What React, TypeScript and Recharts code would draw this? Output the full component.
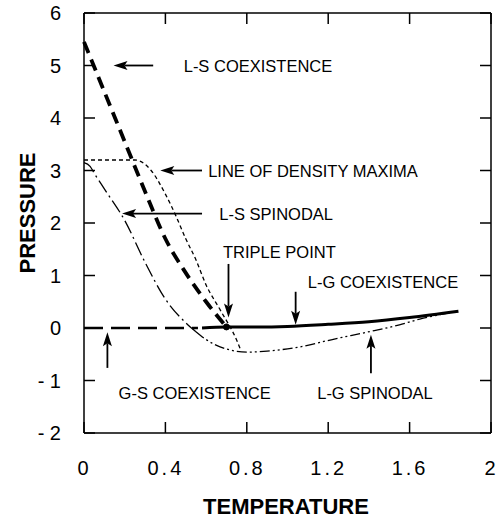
import { LineChart, Line, XAxis, YAxis, ReferenceLine, ReferenceDot } from "recharts";

const xTicks = [0, 0.4, 0.8, 1.2, 1.6, 2];
const yTicks = [-2, -1, 0, 1, 2, 3, 4, 5, 6];

// L-S coexistence (thick dashed)
const lsCoexT = [0, 0.1, 0.2, 0.3, 0.4, 0.5, 0.6, 0.7];
const lsCoexP = [5.45, 4.5, 3.55, 2.6, 1.7, 1.05, 0.5, 0.02];

// line of density maxima (fine dashes)
const densT = [0, 0.1, 0.2, 0.25, 0.3, 0.33, 0.4, 0.45, 0.5, 0.55, 0.6, 0.67, 0.75, 0.77];
const densP = [3.2, 3.2, 3.2, 3.2, 3.12, 3.0, 2.55, 2.15, 1.7, 1.3, 0.82, 0.34, -0.23, -0.42];

// L-S spinodal (long dash - dot)
const lsSpinT = [0, 0.03, 0.05, 0.1, 0.2, 0.3, 0.4, 0.5, 0.55];
const lsSpinP = [3.15, 3.08, 2.95, 2.65, 2.05, 1.25, 0.55, 0.1, -0.07];

// L-G spinodal (dash - dot - dot)
const lgSpinT = [0.55, 0.6, 0.7, 0.8, 0.9, 1.06, 1.23, 1.39, 1.55, 1.65, 1.83];
const lgSpinP = [-0.07, -0.22, -0.4, -0.46, -0.44, -0.36, -0.21, -0.08, 0.06, 0.17, 0.31];

// L-G coexistence (solid)
const lgCoexT = [0.58, 0.7, 0.85, 1.0, 1.2, 1.4, 1.6, 1.84];
const lgCoexP = [0.0, 0.02, 0.02, 0.03, 0.07, 0.12, 0.2, 0.32];

// G-S coexistence (dashed)
const gsCoexT = [0, 0.2, 0.4, 0.56];
const gsCoexP = [0, 0, 0, 0];

const tripleT = [0.7];
const tripleP = [0.02];

// annotation texts
const labelTexts = [
  "L-S COEXISTENCE",
  "LINE OF DENSITY MAXIMA",
  "L-S SPINODAL",
  "TRIPLE POINT",
  "L-G COEXISTENCE",
  "G-S COEXISTENCE",
  "L-G SPINODAL",
];
const labelT = [0.49, 0.61, 0.665, 0.683, 1.1, 0.17, 1.146];
const labelP = [5.0, 3.0, 2.17, 1.44, 0.88, -1.24, -1.24];

// arrows: tail -> head
const arrowTailT = [0.34, 0.58, 0.58, 0.71, 1.04, 0.115, 1.41];
const arrowTailP = [5.0, 3.0, 2.18, 1.22, 0.69, -0.76, -0.86];
const arrowHeadT = [0.145, 0.375, 0.187, 0.71, 1.04, 0.115, 1.41];
const arrowHeadP = [5.0, 3.0, 2.18, 0.2, 0.06, -0.08, -0.13];

const xMin = 0;
const xMax = 2;
const yMin = -2;
const yMax = 6;

// two interior reference points; the frame is drawn through the axis scales they map to
const refA = { x: 0.5, y: 1 };
const refB = { x: 1.5, y: 3 };

const zip = (t: number[], p: number[]) => t.map((v, i) => ({ t: v, p: p[i] }));

const font = "'Liberation Sans', Arial, Helvetica, sans-serif";
const TICK = 11;

const Arrow = (props: any) => {
  const { x1, y1, x2, y2 } = props;
  const dx = x2 - x1;
  const dy = y2 - y1;
  const len = Math.hypot(dx, dy) || 1;
  const ux = dx / len;
  const uy = dy / len;
  const hl = 14;
  const hw = 4.5;
  const bx = x2 - ux * hl;
  const by = y2 - uy * hl;
  const nx = bx + ux * 3;
  const ny = by + uy * 3;
  return (
    <g>
      <line x1={x1} y1={y1} x2={nx} y2={ny} stroke="#000" strokeWidth={1.8} />
      <polygon
        points={`${x2},${y2} ${bx - uy * hw},${by + ux * hw} ${nx},${ny} ${bx + uy * hw},${by - ux * hw}`}
        fill="#000"
      />
    </g>
  );
};

// top/right frame edges and inward ticks on all four sides
const Frame = (props: any) => {
  const { x1, y1, x2, y2 } = props;
  const sx = (t: number) => x1 + ((t - refA.x) * (x2 - x1)) / (refB.x - refA.x);
  const sy = (p: number) => y1 + ((p - refA.y) * (y2 - y1)) / (refB.y - refA.y);
  const L = sx(xMin);
  const R = sx(xMax);
  const T = sy(yMax);
  const B = sy(yMin);
  return (
    <g stroke="#000" strokeWidth={1.5} fill="none">
      <line x1={L} y1={T} x2={R} y2={T} />
      <line x1={R} y1={T} x2={R} y2={B} />
      {xTicks.map((v) => (
        <g key={`x${v}`}>
          <line x1={sx(v)} x2={sx(v)} y1={T} y2={T + TICK} />
          <line x1={sx(v)} x2={sx(v)} y1={B} y2={B - TICK} />
        </g>
      ))}
      {yTicks.map((v) => (
        <g key={`y${v}`}>
          <line y1={sy(v)} y2={sy(v)} x1={L} x2={L + TICK} />
          <line y1={sy(v)} y2={sy(v)} x1={R} x2={R - TICK} />
        </g>
      ))}
    </g>
  );
};

const yFmt = (v: number) => (v < 0 ? `- ${-v}` : `${v}`);

export default function App() {
  return (
    <div style={{ position: "absolute", left: 0, top: 0, width: 498, height: 518, background: "#fff" }}>
      <LineChart width={498} height={518} margin={{ top: 13, right: 7, bottom: 0, left: 0 }}>
        <XAxis
          dataKey="t"
          type="number"
          domain={[xMin, xMax]}
          ticks={xTicks}
          height={85}
          tickLine={false}
          tickMargin={22}
          stroke="#000"
          strokeWidth={1.5}
          tick={{ fill: "#000", fontSize: 20, fontFamily: font, letterSpacing: 3, dx: 0.5 }}
          label={{
            value: "TEMPERATURE",
            position: "insideBottom",
            offset: 4,
            fill: "#000",
            fontSize: 22,
            fontWeight: "bold",
            fontFamily: font,
            dx: -1.5,
          }}
        />
        <YAxis
          dataKey="p"
          type="number"
          domain={[yMin, yMax]}
          ticks={yTicks}
          width={84}
          tickLine={false}
          tickMargin={17}
          tickFormatter={yFmt}
          stroke="#000"
          strokeWidth={1.5}
          tick={{ fill: "#000", fontSize: 20, fontFamily: font }}
          label={{
            value: "PRESSURE",
            position: "center",
            angle: -90,
            dx: -15,
            dy: -10,
            fill: "#000",
            fontSize: 22,
            fontWeight: "bold",
            fontFamily: font,
          }}
        />

        <Line data={zip(gsCoexT, gsCoexP)} dataKey="p" type="linear" stroke="#000" strokeWidth={2.6} strokeDasharray="19 8" dot={false} isAnimationActive={false} />
        <Line data={zip(lgCoexT, lgCoexP)} dataKey="p" type="monotone" stroke="#000" strokeWidth={3} dot={false} isAnimationActive={false} />
        <Line data={zip(lgSpinT, lgSpinP)} dataKey="p" type="monotone" stroke="#000" strokeWidth={1.3} strokeDasharray="10 3 2 3 2 3" dot={false} isAnimationActive={false} />
        <Line data={zip(lsSpinT, lsSpinP)} dataKey="p" type="monotone" stroke="#000" strokeWidth={1.3} strokeDasharray="14 4 2 4" dot={false} isAnimationActive={false} />
        <Line data={zip(densT, densP)} dataKey="p" type="monotone" stroke="#000" strokeWidth={1.3} strokeDasharray="4 3" dot={false} isAnimationActive={false} />
        <Line data={zip(lsCoexT, lsCoexP)} dataKey="p" type="monotone" stroke="#000" strokeWidth={3.8} strokeDasharray="12 7" dot={false} isAnimationActive={false} />

        <ReferenceLine segment={[refA, refB]} shape={Frame} />

        {tripleT.map((t, i) => (
          <ReferenceDot key={`tp${i}`} x={t} y={tripleP[i]} r={3} fill="#000" stroke="#000" />
        ))}

        {arrowTailT.map((t, i) => (
          <ReferenceLine
            key={`ar${i}`}
            segment={[
              { x: t, y: arrowTailP[i] },
              { x: arrowHeadT[i], y: arrowHeadP[i] },
            ]}
            shape={Arrow}
          />
        ))}

        {labelTexts.map((s, i) => (
          <ReferenceDot
            key={`lb${i}`}
            x={labelT[i]}
            y={labelP[i]}
            r={0}
            shape={(p: any) => (
              <text x={p.cx} y={p.cy} dominantBaseline="central" fontFamily={font} fontSize={16.5} fill="#000">
                {s}
              </text>
            )}
          />
        ))}
      </LineChart>
    </div>
  );
}
